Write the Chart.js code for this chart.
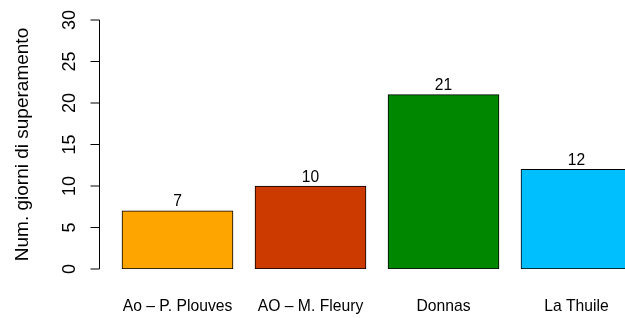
<!DOCTYPE html>
<html><head><meta charset="utf-8">
<script src="https://cdn.jsdelivr.net/npm/chart.js@4/dist/chart.umd.min.js"></script>
<style>html,body{margin:0;padding:0;overflow:hidden;background:#fff;width:625px;height:318px}canvas{display:block}</style>
</head><body>
<canvas id="c" width="643" height="318" style="width:643px;height:318px"></canvas>
<script>
const categories = ["Ao – P. Plouves", "AO – M. Fleury", "Donnas", "La Thuile"];
const giorni = [7, 10, 21, 12];
const barColors = ["#FFA500", "#CC3A00", "#008700", "#00BFFF"];
const yTicks = [0, 5, 10, 15, 20, 25, 30];
const yTitle = "Num. giorni di superamento";
const FONT = '"Liberation Sans", Arial, Helvetica, sans-serif';

const rAxisPlugin = {
  id: 'rAxis',
  afterDraw(chart) {
    const ctx = chart.ctx, ys = chart.scales.y, area = chart.chartArea;
    const ax = area.left - 11.5;
    ctx.save();
    ctx.strokeStyle = '#000';
    ctx.lineWidth = 1;
    const yTop = ys.getPixelForValue(yTicks[yTicks.length - 1]);
    const yBot = ys.getPixelForValue(yTicks[0]);
    ctx.beginPath();
    ctx.moveTo(ax, yTop);
    ctx.lineTo(ax, yBot);
    yTicks.forEach(v => {
      const py = ys.getPixelForValue(v);
      ctx.moveTo(ax - 9, py);
      ctx.lineTo(ax, py);
    });
    ctx.stroke();
    ctx.fillStyle = '#000';
    ctx.font = '18px ' + FONT;
    ctx.textAlign = 'center';
    ctx.textBaseline = 'alphabetic';
    yTicks.forEach(v => {
      const py = ys.getPixelForValue(v);
      ctx.save();
      ctx.translate(75, py);
      ctx.rotate(-Math.PI / 2);
      ctx.fillText(String(v), 0, 0);
      ctx.restore();
    });
    ctx.save();
    ctx.font = '19px ' + FONT;
    ctx.translate(28, (yTop + yBot) / 2);
    ctx.rotate(-Math.PI / 2);
    ctx.fillText(yTitle, 0, 0);
    ctx.restore();
    // value labels
    ctx.font = '15.6px ' + FONT;
    const meta = chart.getDatasetMeta(0);
    meta.data.forEach((bar, i) => {
      ctx.fillText(String(giorni[i]), bar.x, bar.y - 4.5);
    });
    ctx.restore();
  }
};

new Chart(document.getElementById('c'), {
  type: 'bar',
  data: {
    labels: categories,
    datasets: [{
      data: giorni,
      backgroundColor: barColors,
      borderColor: '#000',
      borderWidth: 1,
      borderSkipped: false,
      categoryPercentage: 1,
      barThickness: 111
    }]
  },
  options: {
    responsive: false,
    animation: false,
    layout: { padding: { left: 111, top: 20, right: 0, bottom: 0 } },
    plugins: { legend: { display: false }, tooltip: { enabled: false } },
    scales: {
      x: {
        grid: { display: false, drawTicks: false },
        border: { display: false },
        ticks: { color: '#000', font: { size: 15.7, family: FONT }, padding: 28, autoSkip: false, maxRotation: 0, minRotation: 0 },
        afterFit(s) { s.height = 49; }
      },
      y: {
        display: false,
        min: 0,
        max: 30
      }
    }
  },
  plugins: [rAxisPlugin]
});
</script>
</body></html>
